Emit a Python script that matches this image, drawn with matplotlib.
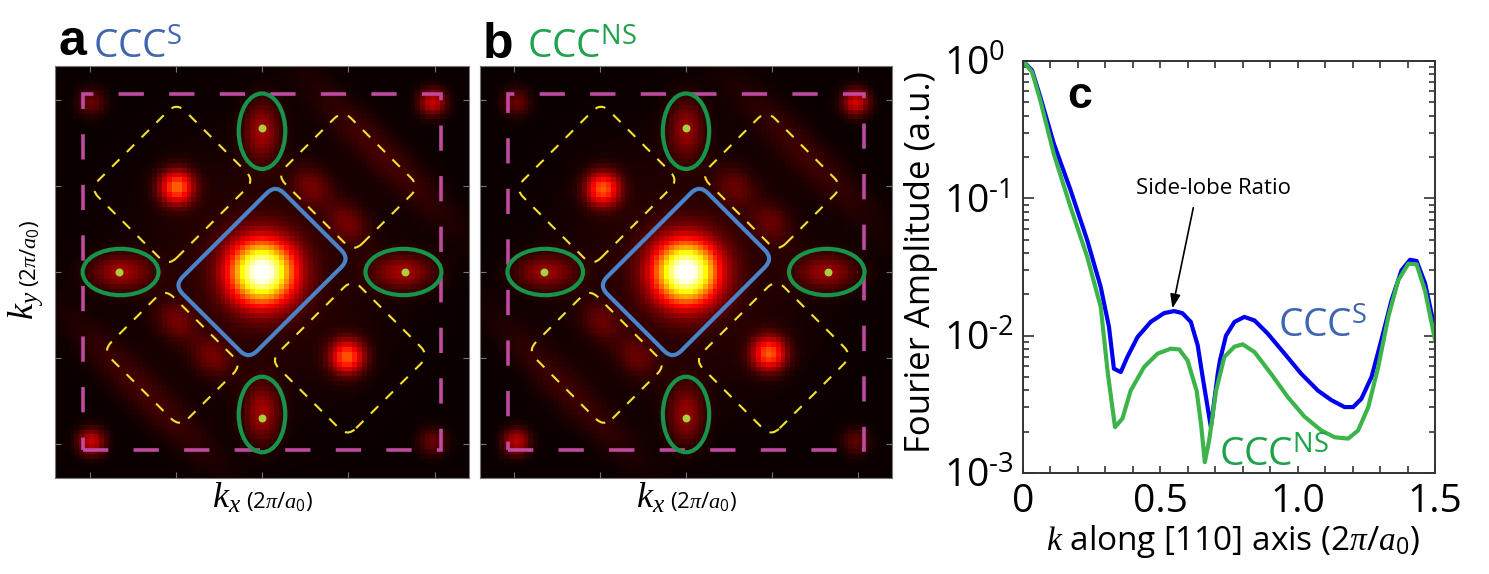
import numpy as np
import matplotlib
matplotlib.use("Agg")
import matplotlib.pyplot as plt
from matplotlib.patches import Ellipse, FancyBboxPatch, Rectangle
from matplotlib.transforms import Affine2D
from matplotlib.ticker import FixedLocator, LogLocator, NullFormatter

plt.rcParams['font.family'] = ['Open Sans', 'DejaVu Sans']
plt.rcParams['mathtext.fontset'] = 'custom'
plt.rcParams['mathtext.rm'] = 'Open Sans'
plt.rcParams['mathtext.it'] = 'Liberation Serif:italic'
plt.rcParams['mathtext.bf'] = 'Open Sans:bold'

W, H = 1489, 574

# panel c: Fourier amplitude along [110]
k_s = [0, 0.033, 0.063, 0.112, 0.173, 0.234, 0.283, 0.313, 0.331, 0.356,
       0.38, 0.417, 0.465, 0.514, 0.55, 0.58, 0.611, 0.636, 0.654, 0.672,
       0.684, 0.709, 0.717, 0.739, 0.77, 0.806, 0.843, 0.891, 0.952, 1.013,
       1.074, 1.123, 1.171, 1.202, 1.232, 1.269, 1.305, 1.342, 1.378, 1.409,
       1.433, 1.464, 1.5]
amp_s = [1.0, 0.855, 0.547, 0.251, 0.115, 0.0494, 0.0226, 0.0116, 0.00575, 0.00543,
         0.0070, 0.00977, 0.0126, 0.0146, 0.0151, 0.0146, 0.0126, 0.00851, 0.00501, 0.00302,
         0.00216, 0.00528, 0.0066, 0.0100, 0.0126, 0.0137, 0.0129, 0.01035, 0.00741, 0.00528,
         0.00398, 0.00339, 0.00302, 0.00302, 0.00347, 0.00501, 0.00933, 0.0182, 0.0299, 0.0357,
         0.0350, 0.0240, 0.0110]
k_ns = [0, 0.033, 0.063, 0.112, 0.173, 0.234, 0.283, 0.309, 0.335, 0.362,
        0.392, 0.441, 0.49, 0.538, 0.569, 0.599, 0.632, 0.648, 0.662, 0.678,
        0.703, 0.733, 0.77, 0.80, 0.843, 0.903, 0.964, 1.025, 1.086, 1.135,
        1.184, 1.22, 1.257, 1.293, 1.33, 1.366, 1.403, 1.433, 1.464, 1.5]
amp_ns = [1.0, 0.832, 0.518, 0.211, 0.0865, 0.0374, 0.0162, 0.00528, 0.00216, 0.00249,
          0.00398, 0.00592, 0.0074, 0.00804, 0.00794, 0.0066, 0.00398, 0.00229, 0.0012, 0.00174,
          0.00398, 0.0070, 0.00832, 0.00865, 0.00759, 0.00528, 0.00357, 0.00257, 0.00204, 0.00182,
          0.00178, 0.00204, 0.00302, 0.00589, 0.0137, 0.0253, 0.0334, 0.0331, 0.0211, 0.00933]
y_tick_exp = ['-3', '-2', '-1', '0']

# panels a, b: bright lobes of the 2D Fourier map
# (kx, ky, amplitude, sigma_1, sigma_2, angle)
lobes_a = [(0, 0, 1.0, 0.135, 0.135, 0), (0, 0, 0.06, 0.5, 0.5, 0),
           (-0.5, 0.5, 0.5, 0.07, 0.07, 0), (0.5, -0.5, 0.48, 0.07, 0.07, 0),
           (0.83, 0, 0.22, 0.12, 0.07, 0), (-0.83, 0, 0.22, 0.12, 0.07, 0),
           (0, 0.83, 0.22, 0.12, 0.07, 90), (0, -0.83, 0.22, 0.12, 0.07, 90),
           (1, 1, 0.28, 0.055, 0.055, 0), (-1, -1, 0.28, 0.055, 0.055, 0),
           (-1, 1, 0.14, 0.055, 0.055, 0), (1, -1, 0.14, 0.055, 0.055, 0),
           (0.29, 0.5, 0.13, 0.09, 0.07, -45), (0.5, 0.29, 0.13, 0.09, 0.07, -45),
           (-0.29, -0.5, 0.13, 0.09, 0.07, -45), (-0.5, -0.29, 0.13, 0.09, 0.07, -45),
           (0.7, 0.7, 0.08, 0.4, 0.08, -45), (-0.7, -0.7, 0.08, 0.4, 0.08, -45)]
lobes_b = [(0, 0, 1.0, 0.135, 0.135, 0), (0, 0, 0.06, 0.5, 0.5, 0),
           (-0.49, 0.49, 0.48, 0.07, 0.07, 0), (0.49, -0.48, 0.48, 0.07, 0.07, 0),
           (0.83, 0, 0.2, 0.12, 0.07, 0), (-0.83, 0, 0.2, 0.12, 0.07, 0),
           (0, 0.84, 0.2, 0.12, 0.07, 90), (0, -0.84, 0.2, 0.12, 0.07, 90),
           (1, 1, 0.3, 0.055, 0.055, 0), (-1, -1, 0.26, 0.055, 0.055, 0),
           (-1, 1, 0.14, 0.055, 0.055, 0), (1, -1, 0.12, 0.055, 0.055, 0),
           (0.29, 0.5, 0.11, 0.09, 0.07, -45), (0.5, 0.29, 0.11, 0.09, 0.07, -45),
           (-0.29, -0.5, 0.11, 0.09, 0.07, -45), (-0.5, -0.29, 0.11, 0.09, 0.07, -45),
           (0.7, 0.7, 0.07, 0.4, 0.08, -45), (-0.7, -0.7, 0.07, 0.4, 0.08, -45)]

# overlay marks
ell_c = [(-0.82, 0), (0.82, 0), (0, 0.82), (0, -0.83)]
ell_w = [0.44, 0.44, 0.27, 0.27]
ell_h = [0.27, 0.27, 0.44, 0.44]
dots_x = [-0.83, 0.83, 0, 0]
dots_y = [0, 0, 0.84, -0.85]
yel_c = [(-0.52, 0.51), (0.50, 0.53), (-0.52, -0.50), (0.51, -0.50)]
yel_a = [0.71, 0.54, 0.51, 0.67]
yel_b = [0.64, 0.63, 0.63, 0.63]
box_half = 1.035

def px(x, y):
    return x / W, 1 - y / H

def lobe_map(lobes, n=85, ext=1.2):
    g = np.linspace(-ext, ext, n)
    X, Y = np.meshgrid(g, g)
    img = np.zeros_like(X)
    for cx, cy, a, s1, s2, ang in lobes:
        t = np.deg2rad(ang)
        u = (X - cx) * np.cos(t) + (Y - cy) * np.sin(t)
        v = -(X - cx) * np.sin(t) + (Y - cy) * np.cos(t)
        img += a * np.exp(-u**2 / (2 * s1**2) - v**2 / (2 * s2**2))
    return np.clip(img, 0, 1)

fig = plt.figure(figsize=(W / 100, H / 100), dpi=100)

def map_panel(rect, lobes):
    ax = fig.add_axes(rect)
    ax.imshow(lobe_map(lobes), cmap='hot', vmin=0, vmax=1, origin='lower',
              extent=(-1.2, 1.2, -1.2, 1.2), interpolation='nearest', aspect='auto')
    ax.add_patch(Rectangle((-box_half, -box_half), 2 * box_half, 2 * box_half, fill=False,
                           edgecolor='#c04aa0', lw=2.6, ls=(0, (7, 7))))
    for (cx, cy), a, b in zip(yel_c, yel_a, yel_b):
        p = FancyBboxPatch((cx - a / 2, cy - b / 2), a, b,
                           boxstyle='round,pad=0,rounding_size=0.07', fill=False,
                           edgecolor='#f5e22c', lw=1.5, ls=(0, (5, 5)))
        p.set_transform(Affine2D().rotate_deg_around(cx, cy, 45) + ax.transData)
        ax.add_patch(p)
    blue = FancyBboxPatch((-0.415, -0.305), 0.83, 0.61,
                          boxstyle='round,pad=0,rounding_size=0.07', fill=False,
                          edgecolor='#4a83c8', lw=3)
    blue.set_transform(Affine2D().rotate_deg(45) + ax.transData)
    ax.add_patch(blue)
    for c, w, h in zip(ell_c, ell_w, ell_h):
        ax.add_patch(Ellipse(c, w, h, fill=False, edgecolor='#17944a', lw=3))
    ax.scatter(dots_x, dots_y, s=22, color='#a6d23e', zorder=5)
    ax.set_xlim(-1.2, 1.2)
    ax.set_ylim(-1.2, 1.2)
    ticks = [-1, -0.5, 0, 0.5, 1]
    ax.set_xticks(ticks)
    ax.set_yticks(ticks)
    ax.tick_params(direction='in', length=4, color='#777777', top=True, right=True,
                   labelbottom=False, labelleft=False)
    for s in ax.spines.values():
        s.set_color('#777777')
    return ax

map_panel([55 / W, 1 - 478 / H, 414 / W, 412 / H], lobes_a)
map_panel([480 / W, 1 - 478 / H, 412 / W, 412 / H], lobes_b)

# panel titles
fig.text(*px(58, 55), 'a', fontfamily='Liberation Sans', fontweight='bold', fontsize=36, va='baseline')
fig.text(*px(93, 58), r'CCC$^{\mathrm{S}}$', fontsize=28, color='#3f67b1', va='baseline')
fig.text(*px(483, 58), 'b', fontfamily='Liberation Sans', fontweight='bold', fontsize=36, va='baseline')
fig.text(*px(527, 58), r'CCC$^{\mathrm{NS}}$', fontsize=28, color='#1ea34b', va='baseline')

# axis labels of the maps
for cx in (262, 686.5):
    fig.text(*px(cx - 50, 508), r'$k_x$', fontsize=26, va='baseline')
    fig.text(*px(cx - 16, 508), r'$\mathit{(2\pi/a_0)}$', fontsize=16, va='baseline')
fig.text(*px(33, 320), r'$k_y$', fontsize=26, rotation=90, rotation_mode='anchor',
         ha='left', va='baseline')
fig.text(*px(36, 287), r'$\mathit{(2\pi/a_0)}$', fontsize=16, rotation=90,
         rotation_mode='anchor', ha='left', va='baseline')

# panel c
ax = fig.add_axes([1023 / W, 1 - 473 / H, 412 / W, 412 / H])
ax.semilogy(k_s, amp_s, color='#0000f0', lw=3)
ax.semilogy(k_ns, amp_ns, color='#3bb44a', lw=3)
ax.set_xlim(0, 1.5)
ax.set_ylim(1e-3, 1)
ax.set_xticks([0, 0.5, 1.0, 1.5])
ax.set_xticklabels(['0', '0.5', '1.0', '1.5'], fontsize=28)
ax.xaxis.set_minor_locator(FixedLocator(np.arange(0, 1.51, 0.1)))
ax.set_yticks([1e-3, 1e-2, 1e-1, 1])
ax.set_yticklabels([r'$\mathregular{10^{\text{%s}}}$' % e for e in y_tick_exp], fontsize=28)
ax.yaxis.set_minor_locator(LogLocator(base=10, subs=np.arange(2, 10)))
ax.yaxis.set_minor_formatter(NullFormatter())
ax.tick_params(which='both', direction='in', top=True, right=True, color='#333333', width=1.2)
ax.tick_params(axis='x', which='both', length=5, pad=7)
ax.tick_params(axis='y', which='major', length=8, pad=57)
ax.tick_params(axis='y', which='minor', length=4)
for lab in ax.get_yticklabels():
    lab.set_horizontalalignment('left')
for s in ax.spines.values():
    s.set_color('#333333')
    s.set_linewidth(1.4)

ax.annotate('Side-lobe Ratio', xy=(0.544, 0.0158), xytext=(0.694, 0.117),
            fontsize=16, ha='center', va='center',
            arrowprops=dict(arrowstyle='-|>,head_length=0.6,head_width=0.22', color='black',
                            lw=1.2, relpos=(0.38, 0), shrinkA=4, shrinkB=0, mutation_scale=14))
ax.text(0.928, 0.0098, r'CCC$^{\mathrm{S}}$', fontsize=28, color='#3f67b1', va='baseline')
ax.text(0.715, 0.00114, r'CCC$^{\mathrm{NS}}$', fontsize=28, color='#1ea34b', va='baseline')
fig.text(*px(1067, 108), 'c', fontfamily='Liberation Sans', fontweight='bold', fontsize=32, va='baseline')

fig.text(*px(921, 262), 'Fourier Amplitude (a.u.)', fontsize=25, rotation=90, ha='center', va='center')
fig.text(*px(1233, 550), r'$k$ along [110] axis $\mathit{(2\pi/a_0)}$', fontsize=24,
         ha='center', va='baseline')

fig.savefig('out.png', dpi=100)
